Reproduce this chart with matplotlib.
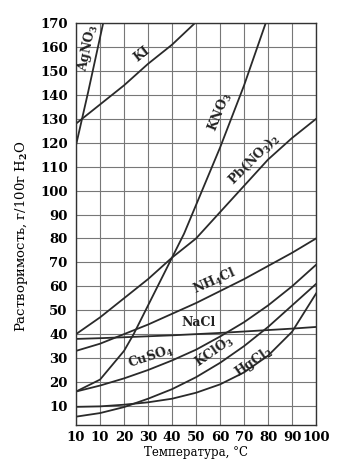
import matplotlib
matplotlib.use("Agg")
import matplotlib.pyplot as plt

plt.rcParams['font.family'] = ['DejaVu Serif']
plt.rcParams['mathtext.fontset'] = 'dejavuserif'
plt.rcParams['mathtext.default'] = 'bf'

# temperatures (°C) and solubilities (g / 100 g H2O)
T_AGNO3 = [0, 5, 11.3]
S_AGNO3 = [119, 141, 170]

T_KI = [0, 10, 20, 30, 40, 49.5]
S_KI = [128, 136, 144, 153, 161, 170]

T_KNO3 = [0, 10, 20, 24, 30, 40, 45, 50, 60, 70, 79]
S_KNO3 = [16, 21, 33, 40, 52, 72, 82, 94, 118, 144, 170]

T_STD = [0, 10, 20, 30, 40, 50, 60, 70, 80, 90, 100]
S_PBNO3 = [40, 47, 55, 63, 72, 80, 91, 102, 113, 122, 130]
S_NH4CL = [33, 36, 40, 44, 48.5, 53, 58, 63, 68.5, 74, 80]
S_NACL = [38, 38.3, 38.7, 39.1, 39.5, 40, 40.5, 41.1, 41.7, 42.3, 43]
S_CUSO4 = [16, 18.5, 21.5, 25, 29, 33.5, 39, 45, 52, 60, 69]
S_KCLO3 = [5.5, 7, 9.5, 13, 17, 22, 28, 35, 43, 52, 61]
S_HGCL2 = [9.6, 9.8, 10.5, 11.5, 13, 15.5, 19, 24, 31, 41, 57]

X_TICKS = [0, 10, 20, 30, 40, 50, 60, 70, 80, 90, 100]
X_LABELS = ['10', '10', '20', '30', '40', '50', '60', '70', '80', '90', '100']
Y_TICKS = list(range(10, 171, 10))

fig = plt.figure(figsize=(3.52, 4.63), dpi=100)
ax = fig.add_axes([0.216, 0.082, 0.682, 0.868])

line_kw = dict(color='#2a2a2a', lw=1.3)
ax.plot(T_AGNO3, S_AGNO3, **line_kw)
ax.plot(T_KI, S_KI, **line_kw)
ax.plot(T_KNO3, S_KNO3, **line_kw)
ax.plot(T_STD, S_PBNO3, **line_kw)
ax.plot(T_STD, S_NH4CL, **line_kw)
ax.plot(T_STD, S_NACL, **line_kw)
ax.plot(T_STD, S_CUSO4, **line_kw)
ax.plot(T_STD, S_KCLO3, **line_kw)
ax.plot(T_STD, S_HGCL2, **line_kw)

ax.set_xlim(0, 100)
ax.set_ylim(2, 170)
ax.set_xticks(X_TICKS)
ax.set_xticklabels(X_LABELS)
ax.set_yticks(Y_TICKS)
ax.grid(True, color='#777777', lw=0.8)
ax.tick_params(length=0, labelsize=9.5)
ax.tick_params(axis='y', pad=6)
ax.tick_params(axis='x', pad=4)
for lbl in ax.get_xticklabels() + ax.get_yticklabels():
    lbl.set_fontweight('bold')
for s in ax.spines.values():
    s.set_color('#333333')
    s.set_linewidth(1.0)

ax.set_xlabel('Температура, °C', fontsize=8.5, labelpad=2)
ax.set_ylabel('Растворимость, г/100г H$_2$O', fontsize=9.5, labelpad=1)
ax.yaxis.set_label_coords(-0.19, 0.47)

# curve labels
lab_kw = dict(fontsize=9, fontweight='bold', color='#222222', ha='center', va='center')
ax.text(4.8, 160, 'AgNO$_3$', rotation=78, **lab_kw)
ax.text(27.5, 157, 'KI', rotation=38, **lab_kw)
ax.text(60, 133, 'KNO$_3$', rotation=68, **lab_kw)
ax.text(74, 113, 'Pb(NO$_3$)$_2$', rotation=45, **lab_kw)
ax.text(58, 62, 'NH$_4$Cl', rotation=24, **lab_kw)
ax.text(51, 45, 'NaCl', rotation=0, **lab_kw)
ax.text(31, 30.5, 'CuSO$_4$', rotation=18, **lab_kw)
ax.text(57.5, 32.5, 'KClO$_3$', rotation=35, **lab_kw)
ax.text(74, 28.5, 'HgCl$_2$', rotation=35, **lab_kw)

fig.savefig('out.png', dpi=100)
